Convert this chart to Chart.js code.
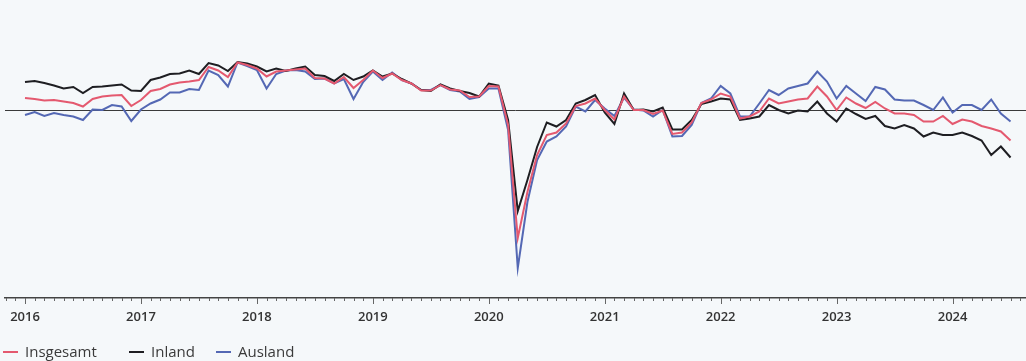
<!DOCTYPE html>
<html>
<head>
<meta charset="utf-8">
<script src="https://cdn.jsdelivr.net/npm/chart.js@4/dist/chart.umd.min.js"></script>
<style>
  html, body { margin: 0; padding: 0; background: #f5f8fa; }
  #wrap { position: relative; width: 1026px; height: 361px; }
  #legend { position: absolute; left: 0; top: 341px; width: 400px; height: 20px; font: 15px "Open Sans", sans-serif; color: #3a3a3a; white-space: nowrap; }
  #legend span { position: absolute; top: 0; }
  #legend i { display: inline-block; width: 15px; height: 2px; vertical-align: middle; margin-right: 7px; position: relative; top: -1px; }
</style>
</head>
<body>
<div id="wrap">
  <canvas id="chart" width="1026" height="361"></canvas>
  <div id="legend"></div>
</div>
<script>
// months since Jan 2016 (0 = Jan 2016, 102 = Jul 2024)
var startYear = 2016;
var yearTicks = [0, 12, 24, 36, 48, 60, 72, 84, 96];

var insgesamt = [
  2.4, 2.2, 1.9, 2.0, 1.7, 1.4, 0.7, 2.2, 2.7, 2.9, 3.0, 0.8,
  2.0, 3.8, 4.2, 5.1, 5.5, 5.7, 6.0, 8.6, 7.9, 6.6, 9.5, 9.0,
  8.3, 6.7, 7.7, 7.9, 8.1, 8.3, 6.4, 6.3, 5.3, 6.6, 4.4, 6.0,
  7.9, 6.4, 7.3, 6.0, 5.3, 3.9, 3.9, 5.0, 4.1, 3.9, 2.6, 2.7,
  4.8, 4.7, -3.0, -25.6, -16.4, -9.0, -5.0, -4.5, -2.7, 0.8, 1.3, 2.3,
  0.0, -1.9, 2.7, 0.0, 0.0, -0.8, -0.1, -4.8, -4.5, -2.5, 1.4, 2.1,
  3.3, 2.7, -1.7, -1.3, -0.3, 2.3, 1.3, 1.7, 2.1, 2.3, 4.7, 2.7,
  0.0, 2.5, 1.3, 0.4, 1.6, 0.3, -0.7, -0.7, -1.0, -2.3, -2.3, -1.2,
  -2.8, -1.9, -2.3, -3.2, -3.7, -4.3, -6.1
];
var inland = [
  5.6, 5.8, 5.4, 4.9, 4.3, 4.6, 3.4, 4.6, 4.7, 4.9, 5.1, 3.9,
  3.8, 6.0, 6.5, 7.2, 7.3, 7.9, 7.2, 9.4, 8.9, 7.8, 9.6, 9.3,
  8.7, 7.7, 8.3, 7.8, 8.3, 8.7, 7.0, 6.8, 5.8, 7.2, 6.0, 6.7,
  7.9, 6.7, 7.3, 6.2, 5.3, 4.0, 3.8, 5.1, 4.3, 3.8, 3.4, 2.7,
  5.3, 4.9, -2.0, -20.2, -14.0, -7.4, -2.5, -3.3, -2.0, 1.3, 2.0, 3.0,
  -0.5, -2.8, 3.3, 0.0, 0.1, -0.3, 0.5, -3.9, -3.9, -2.0, 1.2, 1.7,
  2.3, 2.1, -2.0, -1.7, -1.3, 1.0, 0.0, -0.7, -0.1, -0.3, 1.7, -0.7,
  -2.3, 0.3, -0.8, -1.8, -1.2, -3.2, -3.7, -3.0, -3.7, -5.3, -4.5, -5.0,
  -5.0, -4.5, -5.2, -6.1, -9.0, -7.3, -9.5
];
var ausland = [
  -1.0, -0.4, -1.2, -0.6, -1.0, -1.3, -2.0, 0.1, 0.0, 1.0, 0.7, -2.2,
  0.1, 1.3, 2.1, 3.5, 3.5, 4.2, 4.0, 7.9, 7.0, 4.7, 9.5, 8.8,
  8.0, 4.3, 7.2, 7.9, 8.0, 7.7, 6.2, 6.3, 5.3, 6.2, 2.2, 5.6,
  7.7, 6.0, 7.5, 6.0, 5.3, 4.0, 4.0, 5.0, 4.0, 3.7, 2.2, 2.6,
  4.3, 4.3, -4.0, -31.6, -18.4, -10.0, -6.3, -5.3, -3.3, 0.7, -0.3, 2.0,
  0.3, -1.2, 2.5, 0.1, -0.1, -1.3, 0.0, -5.3, -5.2, -3.0, 1.4, 2.3,
  4.8, 3.3, -1.3, -1.3, 1.3, 4.0, 3.0, 4.3, 4.8, 5.3, 7.7, 5.7,
  2.3, 4.8, 3.3, 1.8, 4.6, 4.1, 2.1, 1.9, 1.9, 1.0, 0.0, 2.5,
  -0.5, 1.0, 1.0, 0.0, 2.1, -0.7, -2.3
];

var seriesNames = ['Insgesamt', 'Inland', 'Ausland'];
var seriesColors = ['#e4596f', '#1e1e22', '#5468b4'];
var legendLeft = [3, 129, 216];

function toPoints(arr) {
  return arr.map(function(v, i) { return { x: i, y: v }; });
}

// month tick marks under the axis line
var monthTicks = {
  id: 'monthTicks',
  afterDraw: function(chart) {
    var sx = chart.scales.x, ctx = chart.ctx, y0 = sx.top;
    ctx.save();
    ctx.strokeStyle = '#666';
    ctx.lineWidth = 1;
    for (var m = -2; m <= 103; m++) {
      var px = Math.round(sx.getPixelForValue(m)) + 0.5;
      var len = (m % 12 === 0) ? 6 : 3;
      ctx.beginPath();
      ctx.moveTo(px, y0);
      ctx.lineTo(px, y0 + len);
      ctx.stroke();
    }
    ctx.restore();
  }
};

var data = [insgesamt, inland, ausland];
new Chart(document.getElementById('chart'), {
  type: 'line',
  data: {
    datasets: data.map(function(d, k) {
      return {
        label: seriesNames[k], data: toPoints(d), borderColor: seriesColors[k],
        borderWidth: 2, pointRadius: 0, tension: 0, fill: false
      };
    })
  },
  options: {
    responsive: false, animation: false,
    layout: { padding: { top: 10, left: 5, right: 0, bottom: 0 } },
    plugins: { legend: { display: false }, tooltip: { enabled: false } },
    scales: {
      x: {
        type: 'linear', min: -2.07, max: 103.6,
        afterBuildTicks: function(s) { s.ticks = yearTicks.map(function(v) { return { value: v }; }); },
        afterFit: function(s) { s.height = 63; },
        grid: { display: false },
        border: { display: true, color: '#444', width: 1.5 },
        ticks: {
          padding: 3, color: '#333', maxRotation: 0, autoSkip: false,
          font: { family: 'Open Sans', size: 13, weight: '600' },
          callback: function(v) { return String(startYear + v / 12); }
        }
      },
      y: {
        min: -37.6, max: 20,
        afterBuildTicks: function(s) { s.ticks = [{ value: 0 }]; },
        afterFit: function(s) { s.width = 0; },
        ticks: { display: false },
        border: { display: false },
        grid: { drawTicks: false, color: '#3a3a3a', lineWidth: 1 }
      }
    }
  },
  plugins: [monthTicks]
});

document.getElementById('legend').innerHTML = seriesNames.map(function(n, k) {
  return '<span style="left:' + legendLeft[k] + 'px"><i style="background:' + seriesColors[k] + '"></i>' + n + '</span>';
}).join('');
</script>
</body>
</html>
